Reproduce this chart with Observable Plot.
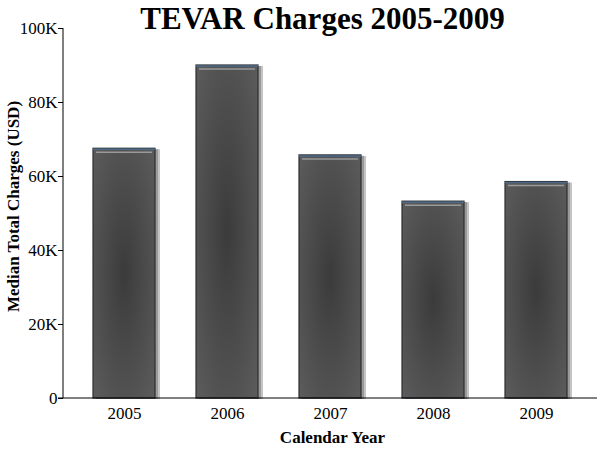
<!DOCTYPE html>
<html><head><meta charset="utf-8">
<script src="https://cdn.jsdelivr.net/npm/d3@7"></script>
<script src="https://cdn.jsdelivr.net/npm/@observablehq/plot@0.6"></script>
<style>body{margin:0;background:#fff;} svg{font-family:"Liberation Serif","Times New Roman",serif;}</style>
</head><body><div id="chart"></div>
<script>
const years = ["2005","2006","2007","2008","2009"];
const charges = [67500, 90000, 65700, 53200, 58500];
const yTicks = [0, 20000, 40000, 60000, 80000, 100000];
const data = years.map((y, i) => ({year: y, value: charges[i]}));

const defs = () => {
  const s = d3.create("svg:defs");
  const g = s.append("radialGradient").attr("id", "barGrad").attr("cx", "0.5").attr("cy", "0.5").attr("r", "0.7");
  g.append("stop").attr("offset", "0%").attr("stop-color", "#3b3b3b");
  g.append("stop").attr("offset", "100%").attr("stop-color", "#5c5c5c");
  return s.node();
};

const yAxisLine = (index, scales, values, dims) => {
  const x = dims.marginLeft;
  return d3.create("svg:line")
    .attr("x1", x).attr("x2", x)
    .attr("y1", scales.y(100000)).attr("y2", scales.y(0))
    .attr("stroke", "#000").node();
};
const xAxisLine = (index, scales, values, dims) => {
  return d3.create("svg:line")
    .attr("x1", dims.marginLeft - 5).attr("x2", dims.width - dims.marginRight)
    .attr("y1", scales.y(0)).attr("y2", scales.y(0))
    .attr("stroke", "#000").node();
};

const chart = Plot.plot({
  width: 602, height: 450,
  marginTop: 28, marginBottom: 52, marginLeft: 63, marginRight: 5,
  style: {fontFamily: "Liberation Serif, serif", fontSize: "17px", color: "#000", background: "#fff"},
  x: {domain: years, paddingInner: 0.4, paddingOuter: 0.27, label: null, tickSize: 0, tickPadding: 8},
  y: {domain: [0, 100000], ticks: yTicks, tickFormat: d => d === 0 ? "0" : (d/1000) + "K", label: null, tickSize: 5, tickPadding: 1},
  marks: [
    defs,
    Plot.barY(data, {x: "year", y: "value", fill: "#c4c4c4", dx: 5, dy: 1}),
    Plot.barY(data, {x: "year", y: "value", fill: "#9a9a9a", dx: 3, dy: 1}),
    Plot.barY(data, {x: "year", y: "value", fill: "url(#barGrad)", stroke: "#2a2e33", strokeWidth: 1.2}),
    Plot.tickY(data, {x: "year", y: "value", stroke: "#4d6a88", strokeWidth: 1.5, dy: 0.5}),
    Plot.tickY(data, {x: "year", y: "value", stroke: "#9a9a9a", strokeWidth: 1.5, dy: 3.5, inset: 3}),
    yAxisLine,
    xAxisLine,
    Plot.text(["TEVAR Charges 2005-2009"], {frameAnchor: "top", dy: -9, dx: -8, fontSize: 31, fontWeight: "bold", lineAnchor: "middle"}),
    Plot.text(["Calendar Year"], {frameAnchor: "bottom", dy: 39, dx: 2, fontSize: 17, fontWeight: "bold", lineAnchor: "middle"}),
    Plot.text(["Median Total Charges (USD)"], {frameAnchor: "left", dx: -50, dy: -7, rotate: -90, fontSize: 17, fontWeight: "bold", lineAnchor: "middle", textAnchor: "middle"})
  ]
});
document.getElementById("chart").appendChild(chart);
</script></body></html>
